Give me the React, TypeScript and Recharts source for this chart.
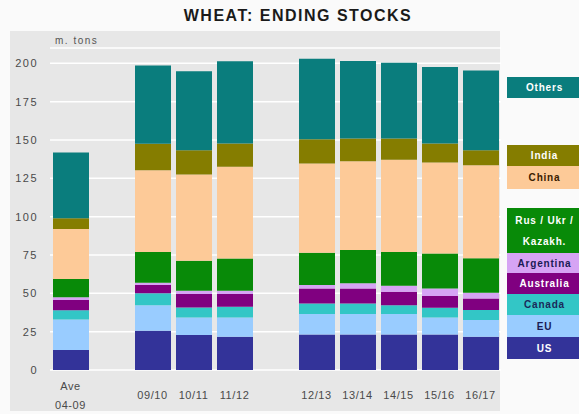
import { BarChart, Bar, XAxis, YAxis, CartesianGrid } from 'recharts'

const labels = ['Ave\n04-09', ' ', '09/10', '10/11', '11/12', '  ', '12/13', '13/14', '14/15', '15/16', '16/17']

const us = [13, null, 25.6, 22.8, 21.7, null, 23.2, 23.2, 23.2, 23.2, 21.7]
const eu = [20, null, 16.7, 11.5, 12.6, null, 13.3, 13.3, 13.3, 11.1, 10.9]
const canada = [6, null, 7.7, 6.5, 6.9, null, 6.9, 6.9, 5.8, 6.3, 6.5]
const australia = [6.6, null, 5.4, 8.7, 8.3, null, 9.8, 9.8, 8.7, 7.6, 7.6]
const argentina = [1.9, null, 1.5, 2.2, 2.2, null, 2.2, 3.3, 3.9, 5.0, 3.7]
const rus = [11.8, null, 20, 19.5, 21, null, 21, 21.7, 22.1, 22.8, 22.4]
const china = [32.6, null, 53.3, 56.3, 59.8, null, 58.2, 58, 60.2, 59.3, 60.8]
const india = [7, null, 17.4, 15.8, 15.2, null, 15.9, 14.7, 13.7, 12.4, 9.7]
const others = [43, null, 51, 51.5, 53.6, null, 52.5, 50.6, 49.5, 49.9, 52.1]

const yTicks = [0, 25, 50, 75, 100, 125, 150, 175, 200]

// bottom to top
const series = [
  { key: 'us', name: 'US', values: us, color: '#333399', text: '#ffffff' },
  { key: 'eu', name: 'EU', values: eu, color: '#99ccff', text: '#1a1a55' },
  { key: 'canada', name: 'Canada', values: canada, color: '#33c6c6', text: '#1a2a5a' },
  { key: 'australia', name: 'Australia', values: australia, color: '#800080', text: '#ffffff' },
  { key: 'argentina', name: 'Argentina', values: argentina, color: '#d6a4f4', text: '#1a1a55' },
  { key: 'rus', name: 'Rus / Ukr /\nKazakh.', values: rus, color: '#088a08', text: '#ffffff' },
  { key: 'china', name: 'China', values: china, color: '#fdca98', text: '#3a2000' },
  { key: 'india', name: 'India', values: india, color: '#857d00', text: '#ffffff' },
  { key: 'others', name: 'Others', values: others, color: '#0a7d7d', text: '#ffffff' },
]

const data = labels.map((label, i) => {
  const row: Record<string, any> = { label }
  series.forEach(s => { row[s.key] = s.values[i] })
  return row
})

// legend box placement (top, height)
const legendBoxes: Record<string, [number, number]> = {
  others: [77, 21],
  india: [145, 21],
  china: [166, 23],
  rus: [208, 45],
  argentina: [253, 20],
  australia: [273, 21],
  canada: [294, 21],
  eu: [315, 22],
  us: [337, 22],
}

const font = '"Liberation Sans", Arial, sans-serif'

const XTick = ({ x, y, payload }: any) => {
  const lines = String(payload.value).trim().split('\n')
  if (!lines[0]) return null
  const style = { fontFamily: font, fontSize: 11, letterSpacing: 0.6, fill: '#4a4a4a' }
  if (lines.length === 1) {
    return <text x={x} y={y + 27} textAnchor="middle" style={style}>{lines[0]}</text>
  }
  return (
    <text x={x} textAnchor="middle" style={style}>
      <tspan x={x} y={y + 18}>{lines[0]}</tspan>
      <tspan x={x} y={y + 37}>{lines[1]}</tspan>
    </text>
  )
}

const App = () => {
  return (
    <div style={{ position: 'fixed', left: 0, top: 0, width: 579, height: 414, background: '#fafafa', overflow: 'hidden', fontFamily: font }}>
      <div style={{ position: 'absolute', left: 10, top: 31, width: 490, height: 380, background: '#e7e7e7' }} />
      <div style={{ position: 'absolute', left: 0, top: 7, width: 596, textAlign: 'center', fontSize: 16, fontWeight: 'bold', letterSpacing: 1.5, color: '#1a1a1a' }}>
        WHEAT: ENDING STOCKS
      </div>
      <div style={{ position: 'absolute', left: 55, top: 35, fontSize: 10, letterSpacing: 1.5, color: '#555' }}>m. tons</div>
      <div style={{ position: 'absolute', left: 0, top: 0 }}>
        <BarChart width={579} height={414} data={data} margin={{ top: 48, right: 78, left: 0, bottom: 0 }}>
          <CartesianGrid vertical={false} stroke="#ffffff" strokeWidth={1.5} />
          <XAxis dataKey="label" height={44} axisLine={false} tickLine={false} tickSize={0} tick={<XTick />} interval={0} />
          <YAxis
            width={50}
            domain={[0, 210]}
            ticks={yTicks}
            axisLine={false}
            tickLine={false}
            tickSize={0}
            tickMargin={12}
            tick={{ fill: '#4a4a4a', fontSize: 11, letterSpacing: 1.5, fontFamily: font }}
          />
          {series.map(s => (
            <Bar key={s.key} dataKey={s.key} stackId="a" fill={s.color} barSize={36} isAnimationActive={false} />
          ))}
        </BarChart>
      </div>
      {series.map(s => {
        const [top, h] = legendBoxes[s.key]
        return (
          <div
            key={s.key}
            style={{
              position: 'absolute', left: 507, top, width: 75, height: h, background: s.color, color: s.text,
              fontSize: 10, fontWeight: 'bold', letterSpacing: 0.8, textAlign: 'center', lineHeight: '21px',
              display: 'flex', flexDirection: 'column', justifyContent: 'center', whiteSpace: 'pre',
            }}
          >
            {s.name}
          </div>
        )
      })}
    </div>
  )
}

export default App
